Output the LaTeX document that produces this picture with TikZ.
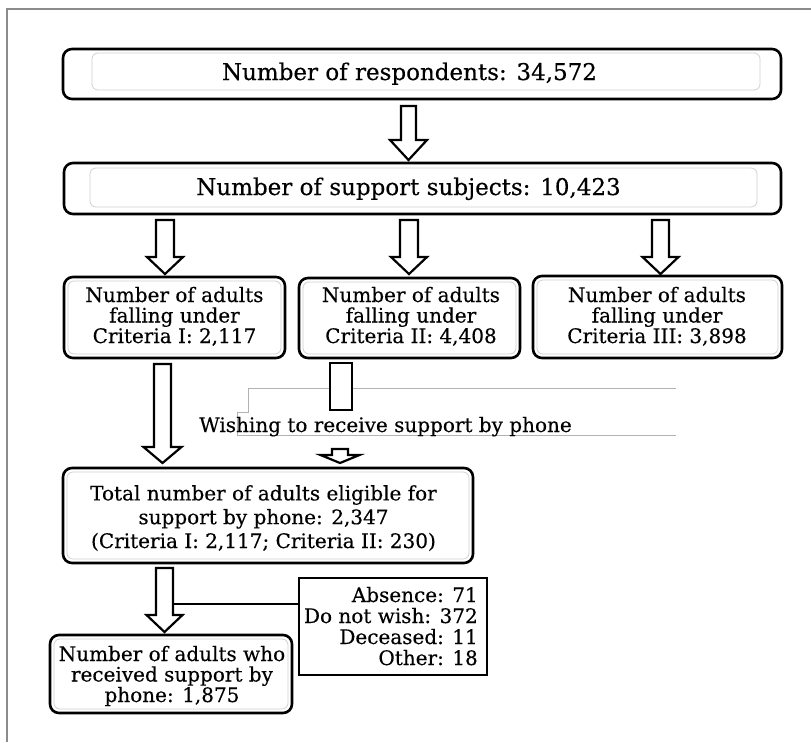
\documentclass[tikz,border=0pt]{standalone}
\usepackage{fontspec}
\setmainfont{DejaVu Serif}[FakeBold=0.35]
\usetikzlibrary{calc}

% hollow block arrow pointing down:
% #1 centre x, #2 shaft top, #3 head base, #4 tip, #5 shaft half width, #6 head half width
\newcommand{\downblock}[6]{%
  \draw[arrowline] (#1-#5,#2) -- (#1+#5,#2) -- (#1+#5,#3) -- (#1+#6,#3)
    -- (#1,#4) -- (#1-#6,#3) -- (#1-#5,#3) -- cycle;}

\begin{document}
\begin{tikzpicture}[x=1pt,y=-1pt,
  frameline/.style={draw=black!45, line width=1.2pt},
  roundbox/.style={draw=black, line width=2.6pt, rounded corners=9pt, inner sep=0pt, fill=white},
  innerbox/.style={draw=black!18, line width=0.8pt, rounded corners=6pt, inner sep=0pt},
  plainbox/.style={draw=black, line width=2.2pt, inner sep=0pt, fill=white},
  arrowline/.style={draw=black, line width=2.2pt, fill=white, line join=miter},
  guide/.style={draw=black!30, line width=0.8pt},
  bigtxt/.style={inner sep=0pt, align=center, font=\fontsize{23}{25}\selectfont},
  txt/.style={inner sep=0pt, align=center, font=\fontsize{20}{20.5}\selectfont},
]
\useasboundingbox (0,0) rectangle (811,742);

% page frame (top and left edges)
\draw[frameline] (811,9) -- (7,9) -- (7,742);

% respondents
\node[roundbox, minimum width=718pt, minimum height=50pt] (resp) at (422,74) {};
\node[innerbox, minimum width=668pt, minimum height=37pt] (respin) at (426,71.5) {};
\node[bigtxt, anchor=base] (resptxt) at (409.5,80) {Number of respondents: 34,572};

% support subjects
\node[roundbox, minimum width=717pt, minimum height=51pt] (subj) at (422.5,188.5) {};
\node[innerbox, minimum width=667pt, minimum height=39pt] (subjin) at (423.5,187.5) {};
\node[bigtxt, anchor=base] (subjtxt) at (408.5,195) {Number of support subjects: 10,423};

\downblock{408.5}{106}{140}{160}{7.5}{18.5}

% criteria boxes (text anchored on the baseline of the last line)
\node[roundbox, minimum width=221pt, minimum height=81pt] (crit1) at (174.5,317.5) {};
\node[innerbox, minimum width=213pt, minimum height=73pt] at (crit1.center) {};
\node[txt, anchor=base] (crit1txt) at (174.5,343) {Number of adults\\falling under\\Criteria I: 2,117};

\node[roundbox, minimum width=221pt, minimum height=80pt] (crit2) at (409.5,318) {};
\node[innerbox, minimum width=213pt, minimum height=72pt] at (crit2.center) {};
\node[txt, anchor=base] (crit2txt) at (411,343) {Number of adults\\falling under\\Criteria II: 4,408};

\node[roundbox, minimum width=249pt, minimum height=82pt] (crit3) at (657.5,317) {};
\node[innerbox, minimum width=241pt, minimum height=74pt] at (crit3.center) {};
\node[txt, anchor=base] (crit3txt) at (657,343) {Number of adults\\falling under\\Criteria III: 3,898};

\downblock{165}{220}{257}{274}{9}{18}
\downblock{409}{220}{257}{274}{9}{18}
\downblock{660.5}{220}{257}{274}{8.5}{18}

% phone wish label with its faint frame
\draw[guide] (676,388) -- (248,388) -- (248,412) -- (237,412) -- (237,435) -- (676,435);
\node[txt, anchor=base] (wish) at (385.5,432) {Wishing to receive support by phone};

\downblock{162.5}{364}{447}{463}{8.5}{19}
\draw[arrowline] (330,363) rectangle (352,410);
\downblock{340}{449}{455}{463}{8}{19.5}

% eligible total
\node[roundbox, minimum width=410pt, minimum height=95pt] (elig) at (268,515.5) {};
\node[innerbox, minimum width=402pt, minimum height=87pt] at (elig.center) {};
\node[txt, anchor=base, font=\fontsize{20}{23.8}\selectfont] (eligtxt) at (263.5,548)
  {Total number of adults eligible for\\support by phone: 2,347\\(Criteria I: 2,117; Criteria II: 230)};

\downblock{164.5}{568}{615}{632}{8.5}{18}

% exclusions
\node[plainbox, minimum width=188pt, minimum height=97pt] (excl) at (393,626.5) {};
\node[txt, anchor=base east, align=right, font=\fontsize{20}{21}\selectfont] (excltxt) at (478,665)
  {Absence: 71\\Do not wish: 372\\Deceased: 11\\Other: 18};
\coordinate (branch) at (173,604);
\draw[line width=2.2pt] (branch) -- (branch -| excl.west);

% received support
\node[roundbox, minimum width=242pt, minimum height=78pt] (recv) at (171,674) {};
\node[innerbox, minimum width=234pt, minimum height=70pt] at (recv.center) {};
\node[txt, anchor=base] (recvtxt) at (172,702) {Number of adults who\\received support by\\phone: 1,875};

\end{tikzpicture}
\end{document}
